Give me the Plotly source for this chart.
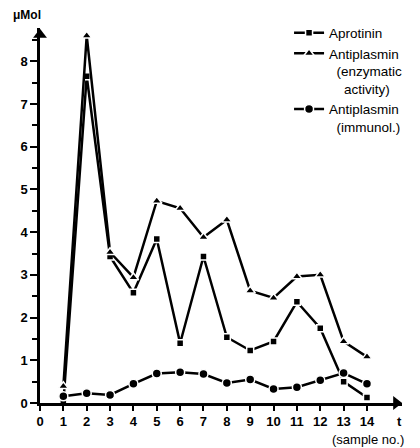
import plotly.graph_objects as go

samples = list(range(1, 15))
aprotinin = [0.0, 7.65, 3.43, 2.58, 3.84, 1.40, 3.43, 1.54, 1.23, 1.44, 2.37, 1.75, 0.50, 0.13]
antiplasmin_enz = [0.39, 8.6, 3.53, 2.94, 4.73, 4.56, 3.88, 4.29, 2.63, 2.46, 2.96, 3.0, 1.44, 1.08]
antiplasmin_imm = [0.16, 0.23, 0.19, 0.45, 0.69, 0.72, 0.68, 0.47, 0.55, 0.33, 0.37, 0.53, 0.70, 0.45]
x_ticks = list(range(0, 15))
y_ticks = list(range(0, 9))

FONT = "Liberation Sans, Arial, sans-serif"
fig = go.Figure()

def add(y, name, symbol, size):
    fig.add_trace(go.Scatter(
        x=samples, y=y, name=name, mode="lines+markers",
        line=dict(color="black", width=2.5),
        marker=dict(symbol=symbol, size=size, color="black",
                    line=dict(color="white", width=1.5)),
        cliponaxis=False,
    ))

add(aprotinin, "Aprotinin", "square", 7)
add(antiplasmin_enz, "Antiplasmin<br>  (enzymatic<br>    activity)", "triangle-up", 9)
add(antiplasmin_imm, "Antiplasmin<br>  (immunol.)", "circle", 9)

# axis arrowheads
fig.add_trace(go.Scatter(x=[0], y=[8.62], mode="markers", showlegend=False,
                         marker=dict(symbol="triangle-up", size=12, color="black"),
                         cliponaxis=False, hoverinfo="skip"))
fig.add_trace(go.Scatter(x=[15.25], y=[0], mode="markers", showlegend=False,
                         marker=dict(symbol="triangle-right", size=12, color="black"),
                         cliponaxis=False, hoverinfo="skip"))

fig.update_layout(
    width=420, height=448,
    margin=dict(l=40, r=13, t=28, b=45),
    paper_bgcolor="white", plot_bgcolor="white",
    font=dict(family=FONT, color="black", size=13),
    legend=dict(x=0.688, y=1.028, xanchor="left", yanchor="top",
                bgcolor="rgba(0,0,0,0)", valign="top", itemwidth=30,
                font=dict(size=13.5, family=FONT)),
    xaxis=dict(range=[0, 15.5], showgrid=False, zeroline=False,
               showline=True, linecolor="black", linewidth=2.5,
               tickmode="array", tickvals=x_ticks, ticktext=[str(v) for v in x_ticks],
               ticks="outside", ticklen=5, tickwidth=2, tickcolor="black",
               tickfont=dict(family=FONT, size=13, weight="bold")),
    yaxis=dict(range=[0, 8.78], showgrid=False, zeroline=False,
               showline=True, linecolor="black", linewidth=2.5,
               tickmode="array", tickvals=y_ticks, ticktext=[str(v) for v in y_ticks],
               ticks="outside", ticklen=7, tickwidth=2, tickcolor="black",
               minor=dict(dtick=0.5, ticks="outside", ticklen=5, tickwidth=2, tickcolor="black"),
               tickfont=dict(family=FONT, size=13, weight="bold")),
    annotations=[
        dict(text="<b>μMol</b>", xref="paper", yref="paper", x=-0.035, y=1.035,
             xanchor="center", yanchor="middle", showarrow=False, font=dict(size=12)),
        dict(text="<b>t</b>", xref="x", yref="paper", x=15.4, y=-0.025,
             xanchor="center", yanchor="top", showarrow=False, font=dict(size=13)),
        dict(text="(sample no.)", xref="paper", yref="paper", x=1.01, y=-0.072,
             xanchor="right", yanchor="top", showarrow=False, font=dict(size=13)),
    ],
)

fig.write_html("out.html", config={"displayModeBar": False},
               post_script="document.body.style.margin='0';")
